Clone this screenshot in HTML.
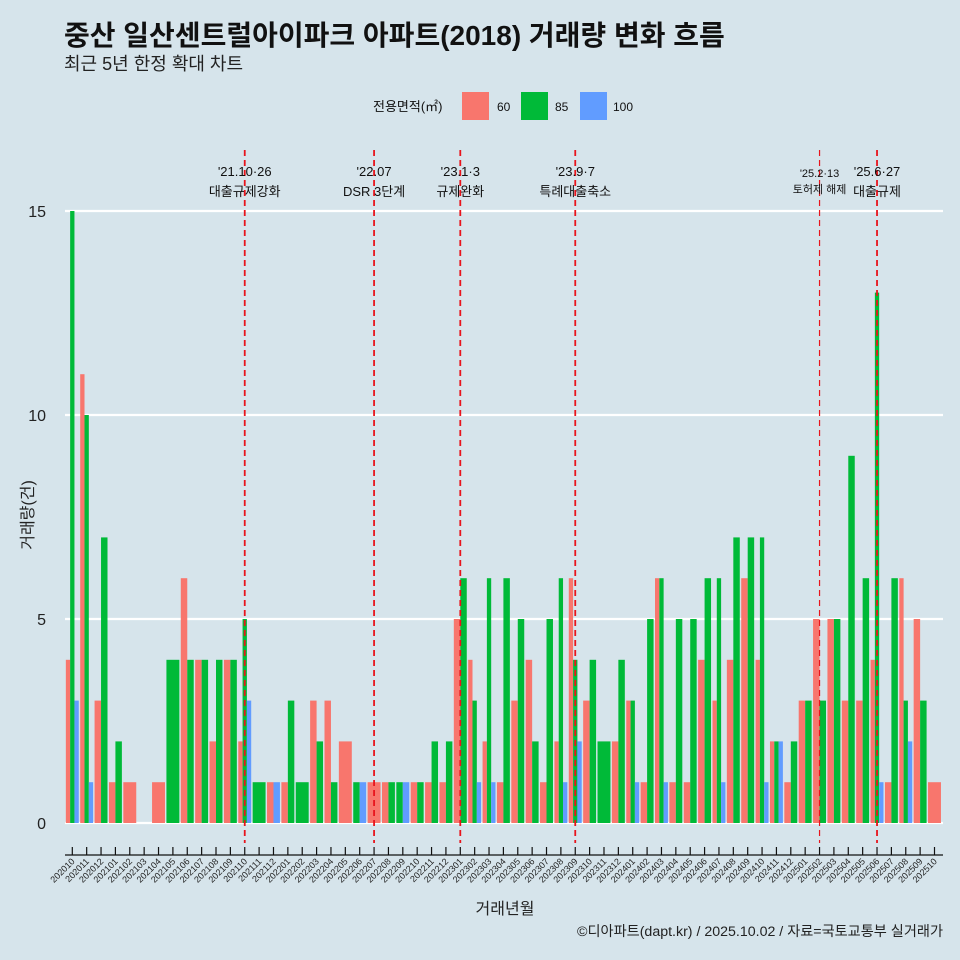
<!DOCTYPE html>
<html><head><meta charset="utf-8"><style>
body{margin:0;background:#d6e4eb;}
svg{display:block;font-family:"Liberation Sans","Noto Sans CJK KR",sans-serif;}
</style></head><body>
<svg id="c" width="960" height="960" viewBox="0 0 960 960">
<rect x="0" y="0" width="960" height="960" fill="#d6e4eb"/>
<text x="64" y="45" font-size="28" font-weight="bold" fill="#111">중산 일산센트럴아이파크 아파트(2018) 거래량 변화 흐름</text>
<text x="64" y="70" font-size="18" fill="#222">최근 5년 한정 확대 차트</text>
<g>
<text x="373" y="111" font-size="13" fill="#111">전용면적(㎡)</text>
<rect x="462" y="92" width="27" height="28" fill="#f8766d"/>
<text x="497" y="111" font-size="12" fill="#111">60</text>
<rect x="521" y="92" width="27" height="28" fill="#00ba38"/>
<text x="555" y="111" font-size="12" fill="#111">85</text>
<rect x="580" y="92" width="27" height="28" fill="#619cff"/>
<text x="613" y="111" font-size="12" fill="#111">100</text>
</g>
<g id="grid"></g><g id="bars"></g><g id="events"></g><g id="axes"></g>
<text transform="translate(33,515) rotate(-90)" text-anchor="middle" font-size="16" fill="#222">거래량(건)</text>
<text x="505" y="914" text-anchor="middle" font-size="16" fill="#222">거래년월</text>
<text x="943" y="936" text-anchor="end" font-size="14.2" fill="#222">©디아파트(dapt.kr) / 2025.10.02 / 자료=국토교통부 실거래가</text>
</svg>
<script>
const months=["202010","202011","202012","202101","202102","202103","202104","202105","202106","202107","202108","202109","202110","202111","202112","202201","202202","202203","202204","202205","202206","202207","202208","202209","202210","202211","202212","202301","202302","202303","202304","202305","202306","202307","202308","202309","202310","202311","202312","202401","202402","202403","202404","202405","202406","202407","202408","202409","202410","202411","202412","202501","202502","202503","202504","202505","202506","202507","202508","202509","202510"];
const s60=[4,11,3,1,1,0,1,0,6,4,2,4,2,0,1,1,0,3,3,2,0,1,1,0,1,1,1,5,4,2,1,3,4,1,2,6,3,0,2,3,1,6,1,1,4,3,4,6,4,2,1,3,5,5,3,3,4,1,6,5,1];
const s85=[15,10,7,2,0,0,0,4,4,4,4,4,5,1,0,3,1,2,1,0,1,0,1,1,1,2,2,6,3,6,6,5,2,5,6,4,4,2,4,3,5,6,5,5,6,6,7,7,7,2,2,3,3,5,9,6,13,6,3,3,0];
const s100=[3,1,0,0,0,0,0,0,0,0,0,0,3,0,1,0,0,0,0,0,1,0,0,1,0,0,0,0,1,1,0,0,0,0,1,2,0,0,0,1,0,1,0,0,0,1,0,0,1,2,0,0,0,0,0,0,1,0,2,0,0];
const yTicks=[0,5,10,15];
const events=[{m:"202110",l1:"'21.10·26",l2:"대출규제강화",small:false},{m:"202207",l1:"'22.07",l2:"DSR 3단계",small:false},{m:"202301",l1:"'23.1·3",l2:"규제완화",small:false},{m:"202309",l1:"'23.9·7",l2:"특례대출축소",small:false},{m:"202502",l1:"'25.2·13",l2:"토허제 해제",small:true},{m:"202506",l1:"'25.6·27",l2:"대출규제",small:false}];
const NS="http://www.w3.org/2000/svg";
const step=14.37,x0=72.3;
const X=i=>x0+i*step;
const Y=v=>823-v*40.8;
function mk(tag,attrs,parent){const e=document.createElementNS(NS,tag);for(const k in attrs)e.setAttribute(k,attrs[k]);parent.appendChild(e);return e;}
const grid=document.getElementById('grid'),bars=document.getElementById('bars'),ev=document.getElementById('events'),ax=document.getElementById('axes');
yTicks.forEach(t=>{
 const g=mk('line',{x1:65,x2:943,y1:Y(t),y2:Y(t),stroke:'#fff','stroke-width':2.2},grid);
 
 
 const tx=mk('text',{x:46,y:Y(t)+6,'text-anchor':'end','font-size':16,fill:'#222'},ax);
 tx.textContent=t;
 
 
});
const cols=['#f8766d','#00ba38','#619cff'],names=['60','85','100'];
months.forEach((m,i)=>{
 const vals=[s60[i],s85[i],s100[i]];
 const present=[0,1,2].filter(k=>vals[k]>0);
 const bw=step*0.9,w=bw/present.length;
 present.forEach((k,j)=>{
  const r=mk('rect',{x:X(i)-bw/2+j*w,y:Y(vals[k]),width:w,height:Y(0)-Y(vals[k]),fill:cols[k]},bars);
  
  
 });
 const tk=mk('line',{x1:X(i),x2:X(i),y1:847,y2:855,stroke:'#111','stroke-width':1.2},ax);
 
 
 const lb=mk('text',{transform:`translate(${X(i)+3},${862}) rotate(-45)`,'text-anchor':'end','font-size':9,fill:'#222'},ax);
 lb.textContent=m;
 
 
});
const axl=mk('line',{x1:65,x2:943,y1:855,y2:855,stroke:'#111','stroke-width':1.2},ax);


events.forEach(e=>{
 const i=months.indexOf(e.m);
 const ln=mk('line',{x1:X(i),x2:X(i),y1:150,y2:843,stroke:'#e8141c','stroke-width':e.small?1.2:1.8,'stroke-dasharray':'6,4'},ev);
 
 
 const fs=e.small?11:13;
 const t1=mk('text',{x:X(i),y:e.small?177:176,'text-anchor':'middle','font-size':fs,fill:'#111'},ev);
 t1.textContent=e.l1;
 
 
 const t2=mk('text',{x:X(i),y:e.small?193:196,'text-anchor':'middle','font-size':fs,fill:'#111'},ev);
 t2.textContent=e.l2;
 
 
});
</script>
</body></html>
